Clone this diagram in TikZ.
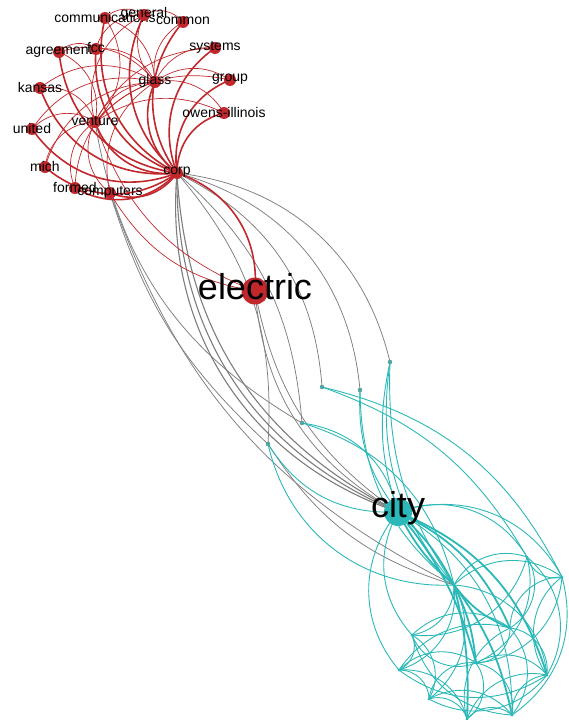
\documentclass[tikz,border=0pt]{standalone}
\usepackage{fontspec}
\setmainfont{Liberation Sans}
\usetikzlibrary{backgrounds}
\definecolor{redc}{RGB}{192,40,44}
\definecolor{tealc}{RGB}{44,184,184}
\definecolor{grayc}{RGB}{125,125,125}
\tikzset{
  rn/.style={circle,fill=redc,inner sep=0pt,minimum size=12pt},
  bn/.style={circle,fill=redc,inner sep=0pt,minimum size=27pt},
  tn/.style={circle,fill=tealc,inner sep=0pt,minimum size=28pt},
  sn/.style={circle,fill=tealc,draw=grayc,line width=0.4pt,inner sep=0pt,minimum size=4pt},
  dn/.style={circle,fill=tealc,inner sep=0pt,minimum size=3pt},
  lbl/.style={font=\fontsize{14}{14}\selectfont,text=black,inner sep=0pt,yshift=1pt},
  blbl/.style={font=\fontsize{36}{36}\selectfont,text=black,inner sep=0pt,yshift=4pt},
  re/.style={draw=redc,line width=0.7pt},
  ret/.style={draw=redc,line width=1.6pt},
  ge/.style={draw=grayc,line width=0.75pt},
  get/.style={draw=grayc,line width=1.1pt},
  te/.style={draw=tealc,line width=0.9pt},
  tet/.style={draw=tealc,line width=1.8pt},
}
\begin{document}
\begin{tikzpicture}[x=1pt,y=-1pt]
\useasboundingbox (0,0) rectangle (568,720);
% red cluster
\node[rn,label={[lbl]center:communications}] (communications) at (105,18) {};
\node[rn,label={[lbl]center:general}] (general) at (144,15) {};
\node[rn,label={[lbl]center:common}] (common) at (183,22) {};
\node[rn,label={[lbl]center:agreement}] (agreement) at (59,52) {};
\node[rn,label={[lbl]center:fcc}] (fcc) at (96,49) {};
\node[rn,label={[lbl]center:systems}] (systems) at (215,48) {};
\node[rn,label={[lbl]center:glass}] (glass) at (155,82) {};
\node[rn,label={[lbl]center:group}] (group) at (230,80) {};
\node[rn,label={[lbl]center:kansas}] (kansas) at (40,88) {};
\node[rn,label={[lbl]center:owens-illinois}] (owens) at (224,113) {};
\node[rn,label={[lbl]center:venture}] (venture) at (95,122) {};
\node[rn,label={[lbl]center:united}] (united) at (32,129) {};
\node[rn,label={[lbl]center:mich}] (mich) at (45,167) {};
\node[rn,label={[lbl]center:corp}] (corp) at (177,173) {};
\node[rn,label={[lbl]center:formed}] (formed) at (75,188) {};
\node[rn,label={[lbl]center:computers}] (computers) at (110,193) {};
\node[bn,label={[blbl]center:electric}] (electric) at (255,291) {};
% small teal nodes
\node[sn] (n1) at (390,362) {};
\node[sn] (n2) at (360,390) {};
\node[sn] (n3) at (322,387) {};
\node[sn] (n4) at (302,423) {};
\node[sn] (n5) at (268,444) {};
% teal cluster
\node[tn,label={[blbl]center:city}] (city) at (398,512) {};
\node[dn] (H) at (454,585) {};
\node[dn] (B1) at (412,635) {};
\node[dn] (B2) at (399,670) {};
\node[dn] (B3) at (429,699) {};
\node[dn] (B4) at (467,719) {};
\node[dn] (B5) at (476,663) {};
\node[dn] (B6) at (512,715) {};
\node[dn] (B7) at (547,675) {};
\node[dn] (B8) at (510,628) {};
\node[dn] (B9) at (562,577) {};
\node[dn] (B10) at (527,557) {};
\begin{scope}[on background layer]
% gray edges
\foreach \a/\b/\k in {corp/n1/35,corp/n2/35,corp/n3/30,corp/n4/22,corp/n5/22,
  city/electric/22,city/electric/28,
  n5/computers/15,H/n5/20,H/computers/22,n4/venture/25}
  \draw[ge] (\a.center) to[bend left=\k] (\b.center);
\foreach \k in {30,34,38}
  \draw[get] (city.center) to[bend left=\k] (corp.center);
% teal edges of small nodes
\foreach \a/\b/\k in {city/n1/15,H/n1/18,H/n1/24,city/n2/20,H/n2/25,n3/B10/20,n3/B9/25,
  n4/city/35,n4/H/30,city/n5/30,H/n5/40}
  \draw[te] (\a.center) to[bend left=\k] (\b.center);
% teal cluster thick
\foreach \a/\b/\k in {city/H/10,H/city/10,city/B8/20,city/B5/12,H/B4/8,H/B5/10,B8/H/15,city/B7/25,H/B6/12}
  \draw[tet] (\a.center) to[bend left=\k] (\b.center);
% teal cluster thin
\foreach \a/\b/\k in {city/B10/40,city/B9/40,B1/city/35,B2/city/40,city/B6/30,
  H/B1/40,H/B2/40,H/B3/40,H/B7/40,H/B9/40,H/B10/40,
  B1/B2/45,B2/B3/45,B3/B4/45,B4/B6/45,B6/B7/45,B7/B9/45,B9/B10/45,B10/B8/45,B8/B5/45,
  B5/B1/45,B1/B8/40,B2/B5/40,B3/B5/45,B5/B6/45,B5/B7/40,B8/B7/45,B8/B9/45,B2/B4/40,
  B3/B6/40,B4/B7/40,B1/B3/45,B8/B6/40,B10/B7/40,B5/B4/45,B2/B8/35,B10/B5/40,B7/B2/35,
  B6/B1/35,B9/B5/40,B7/B3/40,B4/B8/40,B10/B1/40,B9/B6/35}
  \draw[te] (\a.center) to[bend left=\k] (\b.center);
% red edges thick
\foreach \b in {communications,general,common,agreement,fcc,systems,group,kansas,owens,venture,united,mich,formed,computers,glass,electric}
  \draw[ret] (corp.center) to[bend left=38] (\b.center);
% red edges thin
\foreach \a/\b/\k in {kansas/glass/35,united/glass/35,mich/glass/35,agreement/glass/35,fcc/glass/35,
  communications/glass/35,venture/glass/30,formed/glass/35,computers/glass/35,
  glass/general/35,glass/common/35,glass/systems/35,glass/group/35,glass/owens/35,
  united/venture/40,kansas/venture/40,mich/venture/40,formed/venture/40,computers/venture/40,
  agreement/venture/40,communications/venture/40,venture/general/40,venture/systems/30,
  venture/group/30,venture/owens/30,communications/general/40,general/common/40,
  agreement/fcc/40,fcc/general/40,electric/computers/25,electric/venture/25}
  \draw[re] (\a.center) to[bend left=\k] (\b.center);
\end{scope}
\end{tikzpicture}
\end{document}
